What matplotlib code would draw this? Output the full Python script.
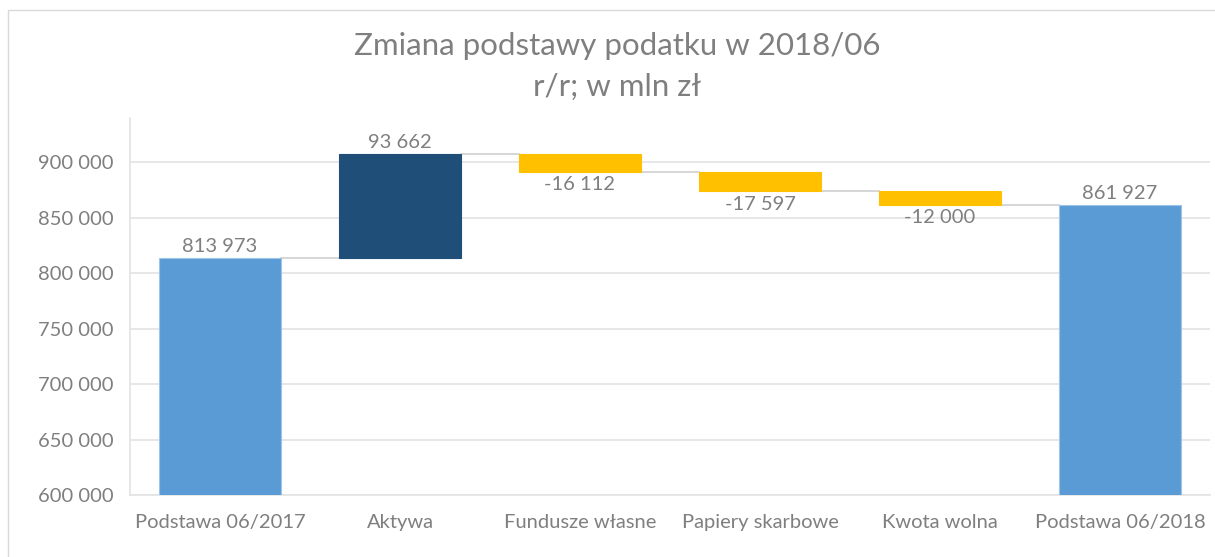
import matplotlib
matplotlib.use("Agg")
import matplotlib.pyplot as plt
from matplotlib.patches import Rectangle

categories = ["Podstawa 06/2017", "Aktywa", "Fundusze własne", "Papiery skarbowe", "Kwota wolna", "Podstawa 06/2018"]
values = [813973, 93662, -16112, -17597, -12000, 861927]
kinds = ["total", "up", "down", "down", "down", "total"]
yticks = [600000, 650000, 700000, 750000, 800000, 850000, 900000]

colors = {"total": "#5B9BD5", "up": "#1F4E79", "down": "#FFC000"}
txt = "#7F7F7F"
plt.rcParams['font.family'] = ['Lato', 'DejaVu Sans']

fig = plt.figure(figsize=(12.15, 5.57), dpi=100)
W, H = 1215, 557
ax = fig.add_axes([130 / W, 1 - 495 / H, (1210 - 130) / W, (495 - 118) / H])

def fmt(v):
    s = f"{abs(v):,}".replace(",", " ")
    return ("-" if v < 0 else "") + s

running = 0
tops = []
for i, (v, k) in enumerate(zip(values, kinds)):
    if k == "total":
        bottom, height = 0, v
        running = v
    else:
        bottom = running if v > 0 else running + v
        height = abs(v)
        running += v
    ax.bar(i, height, bottom=bottom, width=0.68, color=colors[k],
           edgecolor="#9DC3E6" if k == "total" else colors[k], linewidth=0.8, zorder=3)
    top = bottom + height
    tops.append(running)
    if v >= 0:
        ax.text(i, top + 2500, fmt(v), ha="center", va="bottom", fontsize=14.5, color=txt, zorder=4)
    else:
        ax.text(i, bottom - 4000, fmt(v), ha="center", va="top", fontsize=14.5, color=txt, zorder=4)

# connector lines
for i in range(len(values) - 1):
    ax.plot([i + 0.34, i + 1 - 0.34], [tops[i], tops[i]], color="#D0D0D0", lw=1.2, zorder=2)

ax.set_xlim(-0.5, len(categories) - 0.5)
ax.set_ylim(600000, 940000)
ax.set_yticks(yticks)
ax.set_yticklabels([fmt(t) for t in yticks])
ax.set_xticks(range(len(categories)))
ax.set_xticklabels(categories)
ax.tick_params(axis="both", length=0, labelsize=14.5, colors=txt)
ax.tick_params(axis="y", pad=12)
ax.tick_params(axis="x", pad=14)
ax.grid(axis="y", color="#E3E3E3", lw=1.2, zorder=0)
ax.set_axisbelow(True)
for s in ["top", "right"]:
    ax.spines[s].set_visible(False)
for s in ["left", "bottom"]:
    ax.spines[s].set_color("#E3E3E3")
    ax.spines[s].set_linewidth(1.2)

fig.text(617 / W, 1 - 46 / H, "Zmiana podstawy podatku w 2018/06", ha="center", va="center",
         fontsize=22.5, color=txt)
fig.text(617 / W, 1 - 87 / H, "r/r; w mln zł", ha="center", va="center",
         fontsize=22.5, color=txt)

fig.patches.append(Rectangle((8 / W, -0.05), 1.1, 1 - 10 / H + 0.05, transform=fig.transFigure,
                             fill=False, edgecolor="#D9D9D9", lw=1.0))

fig.savefig("out.png", dpi=100)
